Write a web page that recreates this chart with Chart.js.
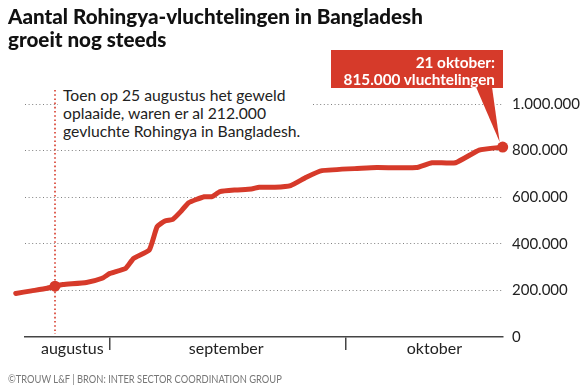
<!DOCTYPE html>
<html>
<head>
<meta charset="utf-8">
<script src="https://cdn.jsdelivr.net/npm/chart.js@4"></script>
<style>
  body { margin: 0; background: #fff; }
  #wrap { position: relative; width: 581px; height: 390px; font-family: 'Lato', sans-serif; color: #222; }
  #chart { position: absolute; left: 0; top: 0; }
  .title { position: absolute; left: 8px; top: 5px; font-size: 20.6px; font-weight: 900; line-height: 23px; color: #111; }
  .note { position: absolute; left: 58px; top: 86px; width: 250px; padding-left: 5px; background: #fff; font-size: 15.7px; line-height: 18px; color: #222; }
  .callout { position: absolute; right: 86px; top: 54px; text-align: right; font-size: 15.3px; font-weight: 700; line-height: 16.5px; color: #fff; }
  .source { position: absolute; left: 8px; top: 373px; font-size: 10.5px; color: #777; transform: scaleX(0.89); transform-origin: left top; white-space: nowrap; }
</style>
</head>
<body>
<div id="wrap">
  <canvas id="chart" width="581" height="390"></canvas>
  <div class="title">Aantal Rohingya-vluchtelingen in Bangladesh<br>groeit nog steeds</div>
  <div class="note">Toen op 25 augustus het geweld<br>oplaaide, waren er al 212.000<br>gevluchte Rohingya in Bangladesh.</div>
  <div class="callout">21 oktober:<br>815.000 vluchtelingen</div>
  <div class="source">©TROUW L&amp;F | BRON: INTER SECTOR COORDINATION GROUP</div>
</div>
<script>
// days counted from 1 augustus (= 0)
const days = [19, 21, 23, 24, 25, 28, 30, 31, 33, 34, 36, 37, 38, 39, 40, 41, 43, 44, 45, 47,
              49, 50, 52, 54, 56, 58, 63, 65, 70, 72, 75, 78, 81];
const refugees = [187000, 198000, 209000, 218000, 225000, 234000, 252000, 273000, 295000, 337000,
                  373000, 473000, 498000, 505000, 538000, 576000, 602000, 602000, 624000, 631000,
                  635000, 643000, 643000, 650000, 686000, 714000, 724000, 727000, 727000, 748000,
                  748000, 802000, 815000];
const monthNames = ['augustus', 'september', 'oktober'];
const monthMid = [26.2, 45.8, 72.3];
const monthStart = [31, 61];
const yTicks = [0, 200000, 400000, 600000, 800000, 1000000];
const markDay = 24; // 25 augustus

const red = '#d63a2a';

function fmt(v) {
    return String(v).replace(/\B(?=(\d{3})+(?!\d))/g, '.');
}

Chart.defaults.font.family = 'Lato';
Chart.defaults.font.size = 16;
Chart.defaults.color = '#222';

const overlay = {
    id: 'overlay',
    beforeDatasetsDraw(chart) {
        const { ctx, scales } = chart;
        const x = scales.x.getPixelForValue(markDay);
        ctx.save();
        ctx.strokeStyle = red;
        ctx.lineWidth = 1.6;
        ctx.setLineDash([1.6, 2.6]);
        ctx.beginPath();
        ctx.moveTo(x, 90);
        ctx.lineTo(x, scales.y.getPixelForValue(0) - 3);
        ctx.stroke();
        ctx.restore();
    },
    afterDatasetsDraw(chart) {
        const { ctx } = chart;
        const pts = chart.getDatasetMeta(0).data;
        const last = pts[pts.length - 1];
        ctx.save();
        ctx.fillStyle = red;
        ctx.fillRect(331, 50, 172, 38);
        ctx.beginPath();
        ctx.moveTo(476, 87);
        ctx.lineTo(492, 87);
        ctx.lineTo(last.x - 3, last.y - 5);
        ctx.closePath();
        ctx.fill();
        ctx.restore();
    }
};

const chart = new Chart(document.getElementById('chart'), {
    type: 'line',
    data: {
        datasets: [{
            data: days.map((d, i) => ({ x: d, y: refugees[i] })),
            borderColor: red,
            backgroundColor: red,
            borderWidth: 5,
            tension: 0.15,
            borderJoinStyle: 'round',
            borderCapStyle: 'round',
            clip: false,
            pointRadius: (c) => (days[c.dataIndex] === markDay || c.dataIndex === days.length - 1) ? 5.5 : 0,
            pointBorderWidth: 0,
            pointHoverRadius: 0
        }]
    },
    options: {
        responsive: false,
        animation: false,
        devicePixelRatio: 1,
        layout: { padding: { top: 104, left: 25, right: 0, bottom: 0 } },
        plugins: { legend: { display: false }, tooltip: { enabled: false } },
        scales: {
            x: {
                type: 'linear',
                min: 20.18,
                max: 81.04,
                afterFit: (s) => { s.height = 53; },
                afterBuildTicks: (s) => {
                    s.ticks = monthMid.concat(monthStart).sort((a, b) => a - b).map(v => ({ value: v }));
                },
                ticks: {
                    autoSkip: false,
                    maxRotation: 0,
                    padding: -11,
                    color: '#222',
                    font: { size: 16 },
                    callback: (v) => {
                        const i = monthMid.indexOf(v);
                        return i >= 0 ? monthNames[i] : '';
                    }
                },
                grid: {
                    drawOnChartArea: false,
                    tickLength: 13,
                    lineWidth: 1.5,
                    color: (c) => (c.tick && monthStart.includes(c.tick.value)) ? '#444' : 'rgba(0,0,0,0)'
                },
                border: { display: true, color: '#444', width: 1.5 }
            },
            y: {
                position: 'right',
                min: 0,
                max: 1000000,
                afterFit: (s) => { s.width = 78; },
                afterBuildTicks: (s) => { s.ticks = yTicks.map(v => ({ value: v })); },
                ticks: {
                    padding: 9,
                    color: '#222',
                    font: { size: 15 },
                    callback: (v) => fmt(v)
                },
                grid: {
                    drawTicks: false,
                    lineWidth: 1,
                    color: (c) => (c.tick && c.tick.value === 0) ? 'rgba(0,0,0,0)' : '#808080'
                },
                border: { display: false, dash: [1, 2.6] }
            }
        }
    },
    plugins: [overlay]
});
</script>
</body>
</html>
